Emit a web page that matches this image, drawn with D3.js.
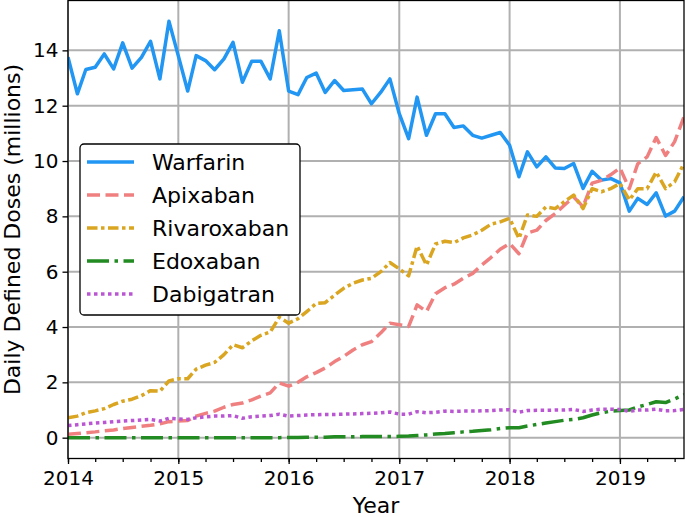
<!DOCTYPE html>
<html>
<head>
<meta charset="utf-8">
<script src="https://cdn.jsdelivr.net/npm/d3@7"></script>
<style>
  body { margin: 0; background: #fff; }
  svg { display: block; font-family: "DejaVu Sans", sans-serif; }
</style>
</head>
<body>
<svg id="chart" width="685" height="517"></svg>
<script>
// monthly values, Jan 2014 .. Aug 2019 (millions of DDDs)
const warfarin = [
  13.75, 12.43, 13.31, 13.39, 13.87, 13.33, 14.27, 13.36, 13.75, 14.33, 12.97, 15.05,
  13.8, 12.53, 13.81, 13.63, 13.3, 13.69, 14.29, 12.85, 13.61, 13.61, 12.97, 14.71,
  12.53, 12.4, 13.02, 13.18, 12.48, 12.91, 12.55, 12.58, 12.6, 12.07, 12.49, 12.97,
  11.71, 10.81, 12.31, 10.93, 11.71, 11.71, 11.21, 11.27, 10.93, 10.83, 10.93, 11.03,
  10.57, 9.43, 10.33, 9.79, 10.15, 9.75, 9.73, 9.91, 9.01, 9.63, 9.31, 9.37,
  9.21, 8.19, 8.65, 8.43, 8.85, 8.01, 8.19, 8.71
];
const apixaban = [
  0.12, 0.15, 0.18, 0.21, 0.25, 0.28, 0.33, 0.37, 0.41, 0.45, 0.5, 0.58,
  0.6, 0.62, 0.78, 0.88, 0.96, 1.1, 1.2, 1.25, 1.37, 1.5, 1.62, 1.98,
  1.86, 2.0, 2.2, 2.35, 2.52, 2.75, 2.94, 3.17, 3.36, 3.47, 3.79, 4.14,
  4.08, 4.02, 4.8, 4.56, 5.2, 5.42, 5.55, 5.76, 5.94, 6.24, 6.52, 6.81,
  7.02, 6.65, 7.4, 7.5, 7.85, 8.1, 8.4, 8.7, 8.35, 9.2, 9.3, 9.5,
  9.75, 9.0, 9.9, 10.15, 10.85, 10.2, 10.7, 11.6
];
const rivaroxaban = [
  0.72, 0.78, 0.9, 0.97, 1.05, 1.2, 1.32, 1.39, 1.52, 1.7, 1.68, 2.05,
  2.13, 2.13, 2.48, 2.62, 2.72, 3.0, 3.36, 3.25, 3.5, 3.7, 3.82, 4.35,
  4.14, 4.3, 4.56, 4.85, 4.88, 5.15, 5.4, 5.58, 5.7, 5.76, 6.0, 6.33,
  6.1, 5.85, 6.93, 6.24, 7.0, 7.1, 7.05, 7.22, 7.33, 7.5, 7.72, 7.8,
  7.93, 7.2, 8.05, 8.0, 8.34, 8.28, 8.53, 8.77, 8.28, 9.0, 8.89, 9.0,
  9.19, 8.59, 9.0, 9.0, 9.6, 9.0, 9.25, 9.91
];
const edoxaban = [
  0, 0, 0, 0, 0, 0, 0, 0, 0, 0, 0, 0,
  0, 0, 0, 0, 0, 0, 0, 0, 0, 0, 0, 0,
  0.01, 0.01, 0.02, 0.02, 0.02, 0.03, 0.03, 0.03, 0.04, 0.04, 0.04, 0.04,
  0.05, 0.06, 0.08, 0.1, 0.13, 0.15, 0.18, 0.21, 0.23, 0.26, 0.29, 0.33,
  0.36, 0.36, 0.42, 0.48, 0.53, 0.58, 0.63, 0.66, 0.72, 0.82, 0.9, 0.96,
  0.98, 1.0, 1.11, 1.2, 1.3, 1.27, 1.4, 1.56
];
const dabigatran = [
  0.44, 0.47, 0.5, 0.53, 0.55, 0.58, 0.6, 0.62, 0.64, 0.66, 0.6, 0.7,
  0.68, 0.66, 0.72, 0.75, 0.78, 0.78, 0.8, 0.7, 0.76, 0.78, 0.8, 0.85,
  0.78, 0.8, 0.82, 0.83, 0.84, 0.84, 0.85, 0.86, 0.87, 0.88, 0.9, 0.93,
  0.85, 0.85, 0.94, 0.9, 0.92, 0.96, 0.95, 0.96, 0.96, 0.97, 0.98, 1.0,
  1.01, 0.92, 0.98, 0.99, 0.99, 1.0, 1.0, 1.02, 0.95, 1.0, 1.03, 1.03,
  1.02, 0.95, 1.0, 1.0, 1.03, 0.97, 0.98, 1.02
];
const drugNames = ["Warfarin", "Apixaban", "Rivaroxaban", "Edoxaban", "Dabigatran"];
const yearTicks = [2014, 2015, 2016, 2017, 2018, 2019];
const yTicks = [0, 2, 4, 6, 8, 10, 12, 14];

const months = d3.timeMonth.range(new Date(2014, 0, 1), new Date(2019, 8, 1));

const series = [
  { name: drugNames[0], values: warfarin, color: "#2196F3", dash: null },
  { name: drugNames[1], values: apixaban, color: "#F08080", dash: "13,5.5" },
  { name: drugNames[2], values: rivaroxaban, color: "#DAA520", dash: "10.5,3.5,3.5,3.5" },
  { name: drugNames[3], values: edoxaban, color: "#228B22", dash: "22,5.5,3.5,5.5" },
  { name: drugNames[4], values: dabigatran, color: "#BA55D3", dash: "3.5,3.5" }
];

const svg = d3.select("#chart");
const margin = { top: 0.5, right: 1, bottom: 58.5, left: 68 };
const width = 685, height = 517;

const x = d3.scaleTime()
  .domain([months[0], months[months.length - 1]])
  .range([margin.left, width - margin.right]);

const ymax = d3.max(warfarin);
const pad = ymax * 0.05;
const y = d3.scaleLinear()
  .domain([-pad, ymax + pad])
  .range([height - margin.bottom, margin.top]);

// grid
const grid = svg.append("g").attr("stroke", "#b0b0b0").attr("stroke-width", 2);
grid.selectAll(".gx").data(yearTicks).join("line")
  .attr("x1", d => x(new Date(d, 0, 1))).attr("x2", d => x(new Date(d, 0, 1)))
  .attr("y1", y.range()[0]).attr("y2", y.range()[1]);
grid.selectAll(".gy").data(yTicks).join("line")
  .attr("x1", x.range()[0]).attr("x2", x.range()[1])
  .attr("y1", d => y(d)).attr("y2", d => y(d));

// lines
const line = d3.line()
  .x((d, i) => x(months[i]))
  .y(d => y(d));

svg.append("defs").append("clipPath").attr("id", "clip")
  .append("rect")
  .attr("x", x.range()[0]).attr("y", y.range()[1])
  .attr("width", x.range()[1] - x.range()[0])
  .attr("height", y.range()[0] - y.range()[1]);

svg.append("g").attr("clip-path", "url(#clip)")
  .selectAll("path").data(series).join("path")
  .attr("d", d => line(d.values))
  .attr("fill", "none")
  .attr("stroke", d => d.color)
  .attr("stroke-width", 3.5)
  .attr("stroke-linejoin", "round")
  .attr("stroke-dasharray", d => d.dash);

// axes
const xAxis = svg.append("g")
  .attr("transform", `translate(0,${y.range()[0]})`)
  .call(d3.axisBottom(x)
    .tickValues(yearTicks.map(d => new Date(d, 0, 1)))
    .tickFormat(d3.timeFormat("%Y"))
    .tickSize(5.5).tickPadding(7));
svg.append("g")
  .attr("transform", `translate(0,${y.range()[0]})`)
  .call(d3.axisBottom(x)
    .ticks(d3.timeMonth.every(3))
    .tickFormat("")
    .tickSize(3.5))
  .call(g => g.select(".domain").remove());

const yAxis = svg.append("g")
  .attr("transform", `translate(${margin.left},0)`)
  .call(d3.axisLeft(y).tickValues(yTicks).tickSize(5.5).tickPadding(4));

svg.selectAll(".tick line").attr("stroke", "#000").attr("stroke-width", 1.3);
svg.selectAll(".tick text").attr("fill", "#000")
  .style("font-size", "20px").style("font-family", "DejaVu Sans");
svg.selectAll(".domain").remove();

// frame
svg.append("rect")
  .attr("x", x.range()[0]).attr("y", y.range()[1])
  .attr("width", x.range()[1] - x.range()[0])
  .attr("height", y.range()[0] - y.range()[1])
  .attr("fill", "none").attr("stroke", "#000").attr("stroke-width", 1.3);

// axis labels
svg.append("text")
  .attr("x", (x.range()[0] + x.range()[1]) / 2)
  .attr("y", 513)
  .attr("text-anchor", "middle")
  .style("font-size", "22px")
  .text("Year");

svg.append("text")
  .attr("transform", `translate(20,${(y.range()[0] + y.range()[1]) / 2}) rotate(-90)`)
  .attr("text-anchor", "middle")
  .style("font-size", "22px")
  .text("Daily Defined Doses (millions)");

// legend
const legend = svg.append("g");
legend.append("rect")
  .attr("x", 80).attr("y", 144).attr("width", 220).attr("height", 171)
  .attr("rx", 4).attr("fill", "#fff").attr("stroke", "#000").attr("stroke-width", 1.3);

const item = legend.selectAll(".item").data(series).join("g")
  .attr("transform", (d, i) => `translate(0,${162 + i * 33})`);
item.append("line")
  .attr("x1", 87).attr("x2", 134)
  .attr("stroke", d => d.color).attr("stroke-width", 3.5)
  .attr("stroke-dasharray", d => d.dash);
item.append("text")
  .attr("x", 152).attr("dy", "0.36em")
  .style("font-size", "22px")
  .text(d => d.name);
</script>
</body>
</html>
